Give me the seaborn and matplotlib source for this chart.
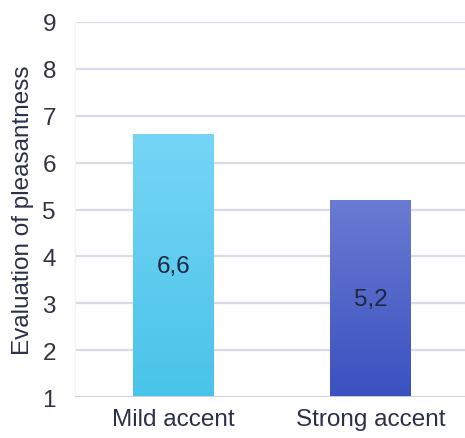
import numpy as np
import pandas as pd
import matplotlib
matplotlib.use("Agg")
import matplotlib.pyplot as plt
import seaborn as sns
from matplotlib.colors import LinearSegmentedColormap

categories = ["Mild accent", "Strong accent"]
values = [6.6, 5.2]
value_labels = ["6,6", "5,2"]
y_ticks = [1, 2, 3, 4, 5, 6, 7, 8, 9]

top_colors = ["#76d5f6", "#6a7bd2"]
bottom_colors = ["#49c4e9", "#3a51c0"]

sns.set_style("white")
plt.rcParams["font.family"] = ["Liberation Sans", "DejaVu Sans"]

df = pd.DataFrame({"group": categories, "score": values})

fig, ax = plt.subplots(figsize=(4.65, 4.39), dpi=100)
fig.subplots_adjust(left=0.162, right=1.0, top=0.948, bottom=0.093)

sns.barplot(data=df, x="group", y="score", ax=ax, width=0.406,
            color="#ffffff", saturation=1, zorder=3)

ax.set_ylim(1, 9)
ax.set_xlim(-0.497, 1.48)

# gradient fill clipped to each bar
grad = np.linspace(1, 0, 256).reshape(-1, 1)
for patch, top, bottom in zip(ax.patches, top_colors, bottom_colors):
    x0, w = patch.get_x(), patch.get_width()
    y1 = patch.get_height()
    cmap = LinearSegmentedColormap.from_list("g", [bottom, top])
    im = ax.imshow(grad, cmap=cmap, aspect="auto", extent=[x0, x0 + w, 1, y1],
                   origin="upper", zorder=3)
    im.set_clip_path(patch)
    patch.set_edgecolor("none")

for i, (v, lab) in enumerate(zip(values, value_labels)):
    ax.text(i, (1 + v) / 2, lab, ha="center", va="center", fontsize=17.5,
            color="#1f2640", zorder=5)

ax.set_yticks(y_ticks)
ax.yaxis.grid(True, color="#d9d9ec", linewidth=1.6, zorder=0)
ax.xaxis.grid(False)
for side in ["top", "right", "bottom"]:
    ax.spines[side].set_visible(False)
ax.spines["left"].set_color("#f3f3f8")
ax.spines["left"].set_linewidth(1.0)
ax.axhline(1, color="#d2d2e6", linewidth=2.0, zorder=4)

ax.tick_params(axis="y", length=0, pad=14, labelsize=17.5, labelcolor="#333340")
ax.tick_params(axis="x", length=0, pad=8, labelsize=17.5, labelcolor="#2a3048")
ax.set_xlabel("")
ax.set_ylabel("Evaluation of pleasantness", fontsize=17.5, color="#2a3048", labelpad=6)

fig.savefig("out.png", dpi=100)
